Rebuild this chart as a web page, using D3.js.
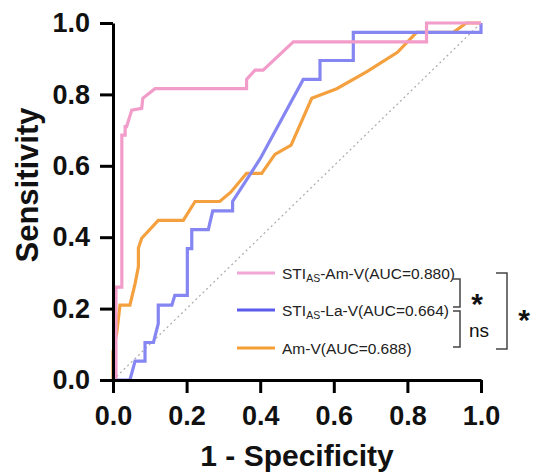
<!DOCTYPE html>
<html lang="en">
<head>
    <meta charset="UTF-8">
    <title>ROC curves</title>
    <script src="https://d3js.org/d3.v7.min.js"></script>
    <style>
        body {
            margin: 0;
            background: #fff;
            font-family: "Liberation Sans", Arial, sans-serif;
        }
        .axis path, .axis line {
            stroke: #000;
            stroke-width: 3;
        }
        .axis text {
            font-size: 27px;
            font-weight: bold;
            fill: #111;
        }
    </style>
</head>
<body>
    <div id="chart"></div>

    <script>
        // ROC points as [1 - specificity, sensitivity]
        const stiAmV = [[0,0],[0.008,0],[0.008,0.26],[0.024,0.26],[0.024,0.686],[0.033,0.686],[0.033,0.71],
            [0.037,0.71],[0.051,0.756],[0.078,0.761],[0.081,0.789],[0.114,0.816],[0.363,0.816],[0.363,0.842],
            [0.386,0.868],[0.408,0.868],[0.49,0.947],[0.852,0.947],[0.852,1],[1,1]];
        const stiLaV = [[0,0],[0.046,0],[0.06,0.053],[0.087,0.053],[0.087,0.105],[0.11,0.105],[0.123,0.158],
            [0.123,0.21],[0.16,0.21],[0.168,0.237],[0.202,0.237],[0.202,0.368],[0.214,0.368],[0.214,0.421],
            [0.259,0.421],[0.271,0.474],[0.325,0.474],[0.325,0.5],[0.4,0.62],[0.517,0.842],[0.5625,0.842],
            [0.5625,0.895],[0.653,0.895],[0.653,0.974],[1,0.974],[1,1]];
        const amV = [[0,0],[0,0.079],[0.01,0.13],[0.019,0.21],[0.046,0.21],[0.06,0.27],[0.069,0.317],
            [0.069,0.37],[0.078,0.397],[0.123,0.447],[0.191,0.447],[0.223,0.5],[0.29,0.5],[0.32,0.526],
            [0.363,0.579],[0.404,0.579],[0.44,0.632],[0.484,0.658],[0.54,0.789],[0.608,0.816],[0.69,0.864],
            [0.773,0.918],[0.825,0.974],[0.925,0.974],[0.96,1],[1,1]];
        const seriesNames = ["STI|AS|-Am-V(AUC=0.880)", "STI|AS|-La-V(AUC=0.664)", "Am-V(AUC=0.688)"];
        const curveColors = ["#f29cca", "#8686f3", "#f4a03e"];
        const legendColors = ["#f2a6d6", "#5b5bec", "#f5a035"];
        const tickValues = [0, 0.2, 0.4, 0.6, 0.8, 1.0];

        const margin = { top: 23, right: 54, bottom: 95, left: 113 };
        const W = 535, H = 475;
        const width = W - margin.left - margin.right;
        const height = H - margin.top - margin.bottom;

        const root = d3.select("#chart").append("svg")
            .attr("width", W)
            .attr("height", H);

        const svg = root.append("g")
            .attr("transform", `translate(${margin.left}, ${margin.top})`);

        const x = d3.scaleLinear().domain([0, 1]).range([0, width]);
        const y = d3.scaleLinear().domain([0, 1]).range([height, 0]);

        // chance diagonal
        svg.append("line")
            .attr("x1", x(0)).attr("y1", y(0))
            .attr("x2", x(1)).attr("y2", y(1))
            .attr("stroke", "#aaa")
            .attr("stroke-width", 1.2)
            .attr("stroke-dasharray", "2,3");

        const line = d3.line().x(d => x(d[0])).y(d => y(d[1]));

        // draw in this order so pink sits on top at the left
        [[amV, 2], [stiLaV, 1], [stiAmV, 0]].forEach(([data, i]) => {
            svg.append("path")
                .datum(data)
                .attr("d", line)
                .attr("fill", "none")
                .attr("stroke", curveColors[i])
                .attr("stroke-width", 3.2)
                .attr("stroke-linejoin", "miter");
        });

        // axes
        svg.append("g")
            .attr("class", "axis")
            .attr("transform", `translate(0, ${height})`)
            .call(d3.axisBottom(x).tickValues(tickValues).tickFormat(d3.format(".1f")).tickSize(13).tickPadding(13).tickSizeOuter(0));

        svg.append("g")
            .attr("class", "axis")
            .call(d3.axisLeft(y).tickValues(tickValues).tickFormat(d3.format(".1f")).tickSize(13).tickPadding(10).tickSizeOuter(0));

        // axis titles
        root.append("text")
            .attr("x", margin.left + width / 2)
            .attr("y", 466)
            .attr("text-anchor", "middle")
            .style("font-size", "30px")
            .style("font-weight", "bold")
            .style("fill", "#111")
            .text("1 - Specificity");

        root.append("text")
            .attr("transform", "translate(38, 185) rotate(-90)")
            .attr("text-anchor", "middle")
            .style("font-size", "31px")
            .style("font-weight", "bold")
            .style("fill", "#111")
            .text("Sensitivity");

        // legend
        const legendY = [273, 310, 348];
        const legend = root.append("g");
        seriesNames.forEach((name, i) => {
            legend.append("line")
                .attr("x1", 237).attr("x2", 275)
                .attr("y1", legendY[i]).attr("y2", legendY[i])
                .attr("stroke", legendColors[i])
                .attr("stroke-width", 3);
            const t = legend.append("text")
                .attr("x", 282)
                .attr("y", legendY[i] + 5.5)
                .style("font-size", "15.5px")
                .style("fill", "#222");
            const parts = name.split("|");
            if (parts.length === 3) {
                t.append("tspan").text(parts[0]);
                t.append("tspan").attr("dy", 3).style("font-size", "10.5px").text(parts[1]);
                t.append("tspan").attr("dy", -3).text(parts[2]);
            } else {
                t.text(name);
            }
        });

        // significance brackets
        const br = root.append("g")
            .attr("fill", "none")
            .attr("stroke", "#444")
            .attr("stroke-width", 1.5);
        br.append("path").attr("d", "M453,279 H460 V307 H453");
        br.append("path").attr("d", "M453,311 H460 V347 H453");
        br.append("path").attr("d", "M496,273 H507 V349 H496");

        const marks = [
            { text: "*", x: 477, y: 314, size: 30, bold: true },
            { text: "ns", x: 479, y: 337, size: 19, bold: false },
            { text: "*", x: 524, y: 330, size: 30, bold: true }
        ];
        marks.forEach(m => {
            root.append("text")
                .attr("x", m.x)
                .attr("y", m.y)
                .attr("text-anchor", "middle")
                .style("font-size", m.size + "px")
                .style("font-weight", m.bold ? "bold" : "normal")
                .style("fill", "#111")
                .text(m.text);
        });
    </script>
</body>
</html>
